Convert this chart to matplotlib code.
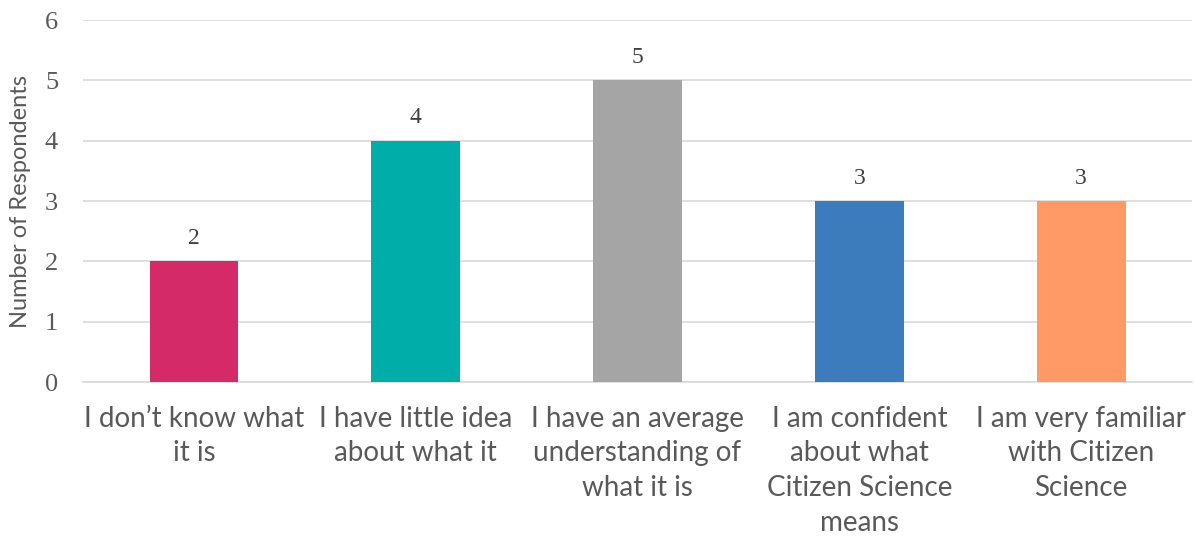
import matplotlib.pyplot as plt

categories = [
    "I don\u2019t know what\nit is",
    "I have little idea\nabout what it",
    "I have an average\nunderstanding of\nwhat it is",
    "I am confident\nabout what\nCitizen Science\nmeans",
    "I am very familiar\nwith Citizen\nScience",
]
counts = [2, 4, 5, 3, 3]
colors = ["#D42B68", "#00ADA9", "#A5A5A5", "#3C7CBC", "#FF9966"]

text_color = "#595959"

fig = plt.figure(figsize=(11.96, 5.41), dpi=100)
ax = fig.add_axes([0.0694, 0.2939, 0.9273, 0.6691])

x = range(len(categories))
bars = ax.bar(x, counts, width=0.40, color=colors, zorder=3)

for b, v in zip(bars, counts):
    ax.annotate(str(v), (b.get_x() + b.get_width() / 2, v),
                xytext=(0, 9), textcoords="offset points",
                ha="center", va="bottom", fontsize=17,
                family="Liberation Serif", color="#404040")

ax.set_ylim(0, 6)
ax.set_xlim(-0.5, len(categories) - 0.5)
ax.set_yticks(range(0, 7))
ax.set_yticklabels([str(i) for i in range(0, 7)], family="Liberation Serif",
                   fontsize=19, color=text_color)
ax.set_xticks(list(x))
ax.set_xticklabels(categories, family="Lato", fontsize=20, color=text_color,
                   linespacing=1.42, va="top")
ax.tick_params(axis="both", length=0)
ax.tick_params(axis="y", pad=18)
ax.tick_params(axis="x", pad=17)

ax.grid(axis="y", color="#D9D9D9", linewidth=1.2, zorder=0)
for s in ["top", "right", "left"]:
    ax.spines[s].set_visible(False)
ax.spines["bottom"].set_color("#D9D9D9")
ax.spines["bottom"].set_linewidth(1.2)

ax.set_ylabel("Number of Respondents", family="Lato", fontsize=17,
              color=text_color)
ax.yaxis.set_label_coords(-0.047, 0.5)

fig.savefig("out.png", dpi=100)
